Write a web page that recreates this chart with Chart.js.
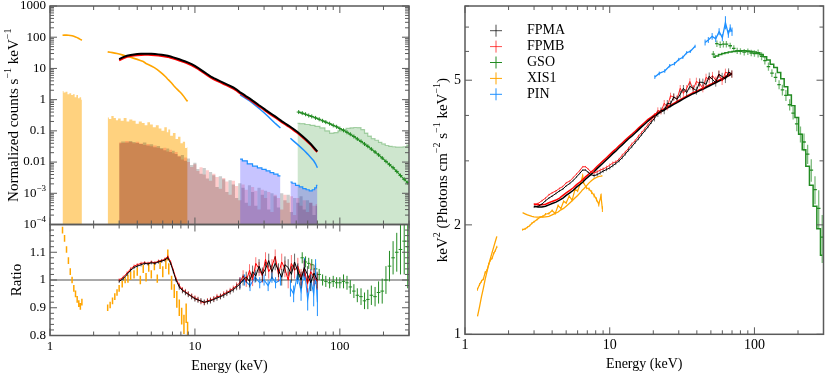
<!DOCTYPE html>
<html>
<head>
<meta charset="utf-8">
<script src="https://cdn.jsdelivr.net/npm/chart.js@4.4.1/dist/chart.umd.min.js"></script>
<style>
  html, body { margin: 0; padding: 0; background: #fff; }
  #wrap { position: relative; width: 830px; height: 386px; overflow: hidden; }
  canvas { position: absolute; top: 0; }
  #fontwarm { position: absolute; left: -9999px; font-family: "Liberation Serif"; font-size: 14px; }
</style>
</head>
<body>
<div id="wrap">
  <canvas id="cTop" width="420" height="386" style="left:0"></canvas>
  <canvas id="cRatio" width="420" height="386" style="left:0"></canvas>
  <canvas id="cUnf" width="410" height="386" style="left:420px"></canvas>
</div>
<span id="fontwarm">Energy (keV) 0123456789</span>
<script>
// ---- NuSTAR FPMA/FPMB energies (keV) ----
const fpmE = [3.0, 3.2, 3.4, 3.6, 3.8, 4.0, 4.25, 4.5, 4.75, 5.0,
  5.3, 5.6, 5.9, 6.2, 6.5, 6.8, 7.1, 7.4, 7.8, 8.2,
  8.6, 9.0, 9.5, 10, 10.5, 11, 11.6, 12.2, 12.8, 13.5,
  14.2, 15, 15.8, 16.6, 17.5, 18.4, 19.4, 20.4, 21.5, 22.6,
  23.8, 25, 26.3, 27.7, 29.2, 30.7, 32.3, 34, 35.8, 37.7,
  39.7, 41.8, 44, 46.3, 48.7, 51.3, 54, 56.8, 59.8, 63,
  66.3, 69.8];
const fpmaCounts = [20, 23, 25.5, 27, 28, 28.8, 29.3, 29.6, 29.6, 29.3,
  28.8, 28.2, 27.3, 26.3, 25.4, 24.0, 22.6, 21.2, 19.6, 18.0,
  16.6, 15.3, 13.7, 12.0, 10.5, 9.0, 7.6, 6.5, 5.6, 4.9,
  4.35, 3.85, 3.45, 3.1, 2.75, 2.45, 2.1, 1.75, 1.5, 1.28,
  1.1, 0.93, 0.79, 0.66, 0.56, 0.47, 0.40, 0.34, 0.29, 0.245,
  0.205, 0.175, 0.15, 0.128, 0.108, 0.09, 0.074, 0.06, 0.048, 0.038,
  0.029, 0.022];
const fpmbCounts = [18, 21, 23.5, 24.8, 25.8, 26.5, 27, 27.2, 27.2, 27,
  26.5, 26, 25.1, 24.2, 23.4, 22.1, 20.8, 19.5, 18, 16.6,
  15.3, 14.1, 12.6, 11.0, 9.7, 8.3, 7.0, 6.0, 5.15, 4.5,
  4.0, 3.55, 3.17, 2.85, 2.53, 2.25, 1.93, 1.62, 1.39, 1.18,
  1.01, 0.86, 0.73, 0.61, 0.52, 0.435, 0.37, 0.315, 0.27, 0.228,
  0.19, 0.163, 0.14, 0.119, 0.1, 0.084, 0.069, 0.056, 0.045, 0.036,
  0.027, 0.021];
const fpmaBkg = [0.040, 0.046, 0.042, 0.047, 0.044, 0.041, 0.038, 0.042, 0.034, 0.037,
  0.030, 0.033, 0.028, 0.024, 0.027, 0.021, 0.023, 0.018, 0.015, 0.017,
  0.011, 0.013, 0.008, 0.0095, 0.006, 0.0042, 0.0065, 0.003, 0.0048, 0.0038,
  0.0016, 0.0035, 0.0028, 0.0011, 0.0026, 0.0019, 0.0007, 0.0021, 0.0015, 0.0005,
  0.0018, 0.0011, 0.0004, 0.0015, 0.0009, 0.0012, 0.0003, 0.001, 0.0008, 0.00035,
  0.001, 0.0006, 0.0009, 0.00025, 0.0007, 0.0005, 0.0008, 0.0003, 0.0006, 0.0005,
  0.0002, 0.0004];
const fpmbBkg = [0.043, 0.041, 0.047, 0.044, 0.040, 0.045, 0.039, 0.035, 0.038, 0.032,
  0.034, 0.029, 0.026, 0.029, 0.022, 0.025, 0.019, 0.021, 0.016, 0.012,
  0.014, 0.010, 0.007, 0.0085, 0.0052, 0.0068, 0.004, 0.0055, 0.0025, 0.0042,
  0.0033, 0.0014, 0.0031, 0.0024, 0.0009, 0.0025, 0.0017, 0.0006, 0.0019, 0.0013,
  0.0004, 0.0016, 0.0012, 0.0003, 0.0013, 0.0007, 0.0011, 0.00025, 0.0009, 0.0007,
  0.0003, 0.0009, 0.0005, 0.0008, 0.0002, 0.0007, 0.0004, 0.0006, 0.00025, 0.0005,
  0.0004, 0.00045];
const fpmaRatio = [0.995, 1.005, 1.02, 1.035, 1.045, 1.05, 1.055, 1.06, 1.058, 1.062,
  1.06, 1.065, 1.068, 1.072, 1.08, 1.06, 1.03, 1.0, 0.975, 0.962,
  0.955, 0.948, 0.94, 0.932, 0.928, 0.925, 0.92, 0.922, 0.925, 0.93,
  0.935, 0.94, 0.945, 0.952, 0.958, 0.965, 0.975, 0.985, 1.0, 1.01,
  0.995, 1.03, 1.015, 1.05, 1.02, 1.04, 1.07, 1.03, 1.06, 1.035,
  1.01, 1.055, 1.045, 1.02, 1.065, 1.03, 1.0, 1.045, 1.02, 0.99,
  1.025, 1.0];
const fpmbRatio = [1.0, 1.01, 1.025, 1.04, 1.05, 1.055, 1.06, 1.062, 1.06, 1.065,
  1.062, 1.068, 1.07, 1.075, 1.085, 1.065, 1.035, 1.005, 0.98, 0.965,
  0.958, 0.95, 0.942, 0.935, 0.93, 0.922, 0.918, 0.925, 0.928, 0.932,
  0.94, 0.942, 0.95, 0.955, 0.962, 0.97, 0.98, 0.99, 1.015, 0.995,
  1.035, 1.0, 1.06, 1.04, 1.015, 1.075, 1.03, 1.05, 1.085, 1.02,
  1.065, 1.04, 1.0, 1.06, 1.035, 1.05, 1.01, 1.04, 0.985, 1.03,
  1.01, 0.995];
const fpmRatioErr = [0.006, 0.006, 0.006, 0.006, 0.006, 0.006, 0.006, 0.006, 0.006, 0.006,
  0.006, 0.006, 0.006, 0.006, 0.006, 0.006, 0.006, 0.006, 0.01, 0.01,
  0.01, 0.01, 0.01, 0.01, 0.01, 0.01, 0.01, 0.01, 0.01, 0.01,
  0.01, 0.01, 0.01, 0.01, 0.01, 0.01, 0.012, 0.02, 0.02, 0.02,
  0.022, 0.022, 0.022, 0.025, 0.025, 0.025, 0.025, 0.025, 0.025, 0.025,
  0.03, 0.03, 0.03, 0.03, 0.03, 0.03, 0.03, 0.03, 0.03, 0.03,
  0.03, 0.03];
const fpmaModel = [2.25, 2.24, 2.24, 2.25, 2.27, 2.29, 2.31, 2.34, 2.37, 2.41,
  2.45, 2.49, 2.54, 2.58, 2.62, 2.67, 2.71, 2.75, 2.80, 2.86,
  2.91, 2.96, 3.02, 3.08, 3.14, 3.19, 3.26, 3.32, 3.38, 3.45,
  3.51, 3.58, 3.65, 3.72, 3.79, 3.86, 3.93, 3.99, 4.04, 4.09,
  4.14, 4.19, 4.24, 4.29, 4.34, 4.39, 4.44, 4.49, 4.54, 4.59,
  4.63, 4.68, 4.72, 4.77, 4.82, 4.87, 4.92, 4.97, 5.02, 5.08,
  5.14, 5.20];
const fpmbModel = [2.28, 2.27, 2.27, 2.28, 2.30, 2.32, 2.34, 2.37, 2.41, 2.45,
  2.49, 2.53, 2.58, 2.62, 2.66, 2.71, 2.75, 2.79, 2.84, 2.90,
  2.95, 3.00, 3.06, 3.12, 3.18, 3.23, 3.30, 3.36, 3.42, 3.49,
  3.55, 3.62, 3.69, 3.76, 3.83, 3.90, 3.96, 4.02, 4.07, 4.12,
  4.17, 4.22, 4.27, 4.32, 4.37, 4.42, 4.47, 4.52, 4.57, 4.62,
  4.66, 4.71, 4.75, 4.80, 4.85, 4.90, 4.95, 5.00, 5.05, 5.11,
  5.17, 5.23];
const fpmaUnf = [2.24, 2.25, 2.28, 2.33, 2.37, 2.40, 2.44, 2.48, 2.51, 2.56,
  2.60, 2.65, 2.71, 2.77, 2.83, 2.83, 2.79, 2.75, 2.73, 2.75,
  2.78, 2.81, 2.84, 2.87, 2.91, 2.95, 3.00, 3.06, 3.13, 3.21,
  3.28, 3.37, 3.45, 3.54, 3.63, 3.72, 3.83, 3.93, 4.04, 4.13,
  4.12, 4.32, 4.30, 4.50, 4.43, 4.57, 4.75, 4.62, 4.81, 4.75,
  4.68, 4.94, 4.93, 4.87, 5.13, 5.02, 4.92, 5.19, 5.12, 5.03,
  5.27, 5.20];
const fpmbUnf = [2.28, 2.29, 2.33, 2.37, 2.42, 2.45, 2.48, 2.52, 2.55, 2.61,
  2.64, 2.70, 2.76, 2.82, 2.89, 2.89, 2.85, 2.80, 2.78, 2.80,
  2.83, 2.85, 2.88, 2.92, 2.96, 2.98, 3.03, 3.11, 3.17, 3.25,
  3.34, 3.41, 3.51, 3.59, 3.68, 3.78, 3.88, 3.98, 4.13, 4.10,
  4.32, 4.22, 4.53, 4.49, 4.44, 4.75, 4.60, 4.75, 4.96, 4.71,
  4.96, 4.90, 4.75, 5.09, 5.02, 5.15, 5.00, 5.20, 4.97, 5.26,
  5.22, 5.20];
const fpmUnfErr = [0.015, 0.015, 0.015, 0.015, 0.015, 0.015, 0.015, 0.015, 0.015, 0.015,
  0.015, 0.015, 0.015, 0.015, 0.015, 0.015, 0.015, 0.015, 0.03, 0.03,
  0.03, 0.03, 0.03, 0.03, 0.03, 0.03, 0.03, 0.03, 0.03, 0.03,
  0.03, 0.03, 0.03, 0.03, 0.03, 0.03, 0.04, 0.08, 0.08, 0.08,
  0.09, 0.09, 0.09, 0.1, 0.1, 0.1, 0.1, 0.1, 0.1, 0.1,
  0.12, 0.12, 0.12, 0.12, 0.12, 0.12, 0.12, 0.12, 0.12, 0.12,
  0.12, 0.12];

// ---- Suzaku XIS1 ----
const xis1E1 = [1.22, 1.26, 1.3, 1.34, 1.38, 1.42, 1.46, 1.5, 1.54, 1.58, 1.62, 1.66];
const xis1Counts1 = [115, 117, 117, 116, 114, 111, 107, 102, 97, 91, 85, 80];
const xis1Bkg1 = [1.9, 1.7, 1.8, 1.5, 1.6, 1.4, 1.5, 1.2, 1.4, 1.1, 1.2, 1.0];
const xis1Ratio1 = [1.18, 1.15, 1.11, 1.07, 1.03, 1.0, 0.97, 0.95, 0.93, 0.915, 0.905, 0.92];
const xis1RatioErr1 = [0.012, 0.012, 0.012, 0.012, 0.012, 0.012, 0.012, 0.012, 0.012, 0.012, 0.012, 0.012];
const xis1Unf1 = [1.33, 1.37, 1.40, 1.42, 1.48, 1.50, 1.56, 1.60, 1.62, 1.67, 1.70, 1.74];
const xis1Model1 = [1.12, 1.19, 1.27, 1.34, 1.42, 1.49, 1.56, 1.62, 1.68, 1.74, 1.80, 1.86];
const xis1E2 = [2.5, 2.6, 2.7, 2.8, 2.9, 3.0, 3.15, 3.3, 3.45, 3.6,
  3.8, 4.0, 4.2, 4.4, 4.6, 4.8, 5.0, 5.25, 5.5, 5.75,
  6.0, 6.3, 6.5, 6.6, 6.9, 7.2, 7.5, 7.8, 8.1, 8.4,
  8.7, 8.9];
const xis1Counts2 = [34, 33, 32, 31, 30, 28.8, 27.2, 25.5, 24, 22.8,
  21, 19.5, 18, 16.6, 14.4, 13.2, 12, 10.6, 9.2, 7.8,
  6.6, 5.3, 4.5, 4.2, 3.4, 2.7, 2.2, 1.85, 1.55, 1.25,
  1.0, 0.88];
const xis1Bkg2 = [0.27, 0.24, 0.3, 0.26, 0.22, 0.25, 0.21, 0.26, 0.2, 0.23,
  0.21, 0.17, 0.2, 0.18, 0.15, 0.19, 0.16, 0.13, 0.15, 0.12,
  0.1, 0.13, 0.09, 0.11, 0.07, 0.085, 0.055, 0.065, 0.04, 0.045,
  0.028, 0.03];
const xis1Ratio2 = [0.9, 0.91, 0.925, 0.94, 0.955, 0.97, 0.985, 1.0, 1.005, 1.015,
  1.02, 1.03, 1.0, 1.04, 1.01, 1.045, 1.02, 1.05, 1.005, 1.055,
  1.03, 1.06, 1.09, 1.04, 0.99, 0.96, 0.93, 0.9, 0.87, 0.84,
  0.88, 0.81];
const xis1RatioErr2 = [0.012, 0.012, 0.012, 0.012, 0.012, 0.012, 0.012, 0.012, 0.015, 0.015,
  0.015, 0.015, 0.015, 0.015, 0.015, 0.015, 0.015, 0.015, 0.015, 0.015,
  0.02, 0.02, 0.02, 0.02, 0.025, 0.025, 0.03, 0.03, 0.03, 0.035,
  0.035, 0.04];
const xis1Model2 = [2.16, 2.145, 2.13, 2.12, 2.11, 2.105, 2.10, 2.10, 2.10, 2.105,
  2.11, 2.13, 2.15, 2.17, 2.2, 2.22, 2.25, 2.29, 2.33, 2.37,
  2.41, 2.46, 2.5, 2.51, 2.56, 2.61, 2.65, 2.68, 2.7, 2.72,
  2.725, 2.73];
const xis1Unf2 = [1.94, 1.95, 1.97, 1.99, 2.02, 2.04, 2.07, 2.10, 2.11, 2.14,
  2.15, 2.19, 2.15, 2.26, 2.22, 2.32, 2.30, 2.40, 2.34, 2.50,
  2.48, 2.61, 2.73, 2.61, 2.53, 2.51, 2.46, 2.41, 2.35, 2.28,
  2.40, 2.21];

// ---- Suzaku HXD PIN ----
const pinE1 = [20.5, 22, 24, 26, 28, 30, 32, 34, 36, 38.9];
const pinCounts1 = [1.42, 1.17, 0.9, 0.67, 0.5, 0.38, 0.29, 0.22, 0.17, 0.124];
const pinBkg1 = [0.0125, 0.011, 0.0088, 0.0074, 0.0065, 0.0058, 0.0052, 0.0046, 0.0041, 0.0036];
const pinRatio1 = [0.99, 1.0, 0.98, 1.01, 0.99, 1.0, 0.98, 1.01, 0.99, 1.0];
const pinRatioErr1 = [0.02, 0.02, 0.02, 0.02, 0.02, 0.02, 0.02, 0.02, 0.02, 0.02];
const pinUnf1 = [5.1, 5.22, 5.3, 5.48, 5.55, 5.7, 5.78, 5.95, 6.0, 6.2];
const pinUnfErr1 = [0.06, 0.06, 0.06, 0.06, 0.06, 0.06, 0.06, 0.06, 0.06, 0.06];
const pinE2 = [45.6, 48, 51, 54, 57, 60, 63, 66, 68, 70];
const pinCounts2 = [0.058, 0.047, 0.037, 0.029, 0.023, 0.018, 0.014, 0.011, 0.0088, 0.0066];
const pinBkg2 = [0.0023, 0.0021, 0.0018, 0.0016, 0.0014, 0.0013, 0.0012, 0.0013, 0.0015, 0.0018];
const pinRatio2 = [0.97, 0.95, 1.02, 0.96, 1.04, 0.93, 1.0, 0.95, 1.03, 0.92];
const pinRatioErr2 = [0.03, 0.03, 0.035, 0.035, 0.04, 0.04, 0.04, 0.045, 0.045, 0.05];
const pinUnf2 = [6.35, 6.45, 6.6, 6.5, 6.8, 6.55, 7.2, 6.7, 6.95, 6.8];
const pinUnfErr2 = [0.12, 0.12, 0.14, 0.14, 0.15, 0.15, 0.3, 0.16, 0.17, 0.18];

// ---- Suzaku HXD GSO ----
const gsoE = [52, 55, 58, 61, 64, 68, 72, 76, 80, 85,
  90, 95, 100, 106, 112, 118, 125, 132, 140, 148,
  156, 165, 175, 185, 196, 208, 220, 233, 247, 262,
  278, 294];
const gsoCounts = [0.40, 0.37, 0.34, 0.31, 0.29, 0.26, 0.235, 0.21, 0.19, 0.17,
  0.15, 0.135, 0.118, 0.104, 0.09, 0.078, 0.066, 0.055, 0.046, 0.038,
  0.032, 0.026, 0.021, 0.017, 0.0135, 0.0105, 0.0083, 0.0066, 0.005, 0.0037,
  0.0028, 0.0022];
const gsoRatio = [1.02, 1.08, 1.065, 1.06, 1.055, 1.04, 1.02, 1.0, 0.995, 0.99,
  0.995, 0.99, 0.99, 0.995, 0.99, 0.975, 0.96, 0.945, 0.94, 0.925,
  0.93, 0.945, 0.94, 0.955, 0.96, 1.0, 1.05, 1.08, 1.1, 1.11,
  1.14, 1.12];
const gsoRatioErr = [0.02, 0.02, 0.02, 0.02, 0.02, 0.02, 0.02, 0.02, 0.02, 0.02,
  0.02, 0.02, 0.02, 0.025, 0.025, 0.025, 0.025, 0.025, 0.03, 0.03,
  0.035, 0.035, 0.035, 0.04, 0.045, 0.05, 0.055, 0.06, 0.07, 0.09,
  0.12, 0.15];
const gsoModel = [5.78, 5.83, 5.88, 5.92, 5.95, 5.98, 6.00, 6.02, 6.03, 6.03,
  6.02, 6.00, 5.98, 5.95, 5.88, 5.80, 5.68, 5.53, 5.42, 5.25,
  5.05, 4.80, 4.55, 4.25, 3.95, 3.55, 3.22, 2.90, 2.57, 2.25,
  1.95, 1.65];
const gsoUnf = [5.90, 6.30, 6.26, 6.28, 6.28, 6.22, 6.12, 6.02, 6.00, 5.97,
  5.99, 5.94, 5.92, 5.92, 5.82, 5.66, 5.45, 5.23, 5.09, 4.86,
  4.70, 4.54, 4.28, 4.06, 3.79, 3.55, 3.38, 3.13, 2.83, 2.50,
  2.22, 1.85];
const gsoUnfErr = [0.12, 0.13, 0.13, 0.13, 0.13, 0.12, 0.12, 0.12, 0.12, 0.12,
  0.12, 0.12, 0.12, 0.15, 0.15, 0.14, 0.14, 0.13, 0.15, 0.14,
  0.16, 0.16, 0.15, 0.16, 0.17, 0.18, 0.19, 0.19, 0.2, 0.22,
  0.27, 0.28];
const gsoBkgE = [51, 55, 60, 65, 70, 76, 82, 88, 94, 100,
  107, 114, 121, 128, 136, 144, 152, 160, 170, 180,
  190, 200, 212, 224, 236, 250, 265, 280, 300];
const gsoBkg = [0.175, 0.17, 0.16, 0.15, 0.14, 0.125, 0.1, 0.085, 0.088, 0.1,
  0.11, 0.12, 0.125, 0.128, 0.126, 0.11, 0.085, 0.068, 0.056, 0.05,
  0.043, 0.038, 0.034, 0.032, 0.031, 0.030, 0.030, 0.031, 0.035];

const unityE = [1, 300];
const unityR = [1, 1];

// ---- axis ticks / labels ----
const energyMajor = [1, 10, 100];
const energyMinor = [2, 3, 4, 5, 6, 7, 8, 9, 20, 30, 40, 50, 60, 70, 80, 90, 200, 300];
const energyLabels = ['1', '10', '100'];
const countMajor = [1e-4, 1e-3, 0.01, 0.1, 1, 10, 100, 1000];
const countLabels = ['10^{−4}', '10^{−3}', '0.01', '0.1', '1', '10', '100', '1000'];
const countMinor = [];
countMajor.slice(0, -1).forEach(d => [2, 3, 4, 5, 6, 7, 8, 9].forEach(m => countMinor.push(d * m)));
const ratioMajor = [0.8, 0.9, 1.0, 1.1];
const ratioLabels = ['0.8', '0.9', '1', '1.1'];
const ratioMinor = [0.82, 0.84, 0.86, 0.88, 0.92, 0.94, 0.96, 0.98, 1.02, 1.04, 1.06, 1.08, 1.12, 1.14, 1.16, 1.18];
const unfMajor = [1, 2, 5];
const unfLabels = ['1', '2', '5'];
const unfMinor = [3, 4, 6, 7, 8];
const legendNames = ['FPMA', 'FPMB', 'GSO', 'XIS1', 'PIN'];

const ORANGE = '#ffa500', BLUE = '#1e90ff', GREEN = '#228b22', RED = '#ff0000';
const FONT = '"Liberation Serif", "Times New Roman", "DejaVu Serif", serif';

function parseRich(s) {
  const out = []; const re = /\^\{([^}]*)\}/g; let last = 0, m;
  while ((m = re.exec(s))) {
    if (m.index > last) out.push({ t: s.slice(last, m.index) });
    out.push({ t: m[1], sup: true }); last = re.lastIndex;
  }
  if (last < s.length) out.push({ t: s.slice(last) });
  return out;
}
function drawRich(ctx, s, x, y, size, align) {
  const parts = parseRich(s); let w = 0;
  const fs = p => (p.sup ? Math.round(size * 0.68) : size) + 'px ' + FONT;
  parts.forEach(p => { ctx.font = fs(p); p.w = ctx.measureText(p.t).width; w += p.w; });
  let cx = align === 'right' ? x - w : align === 'center' ? x - w / 2 : x;
  ctx.textAlign = 'left'; ctx.textBaseline = 'middle';
  parts.forEach(p => {
    ctx.font = fs(p);
    ctx.fillText(p.t, cx, p.sup ? y - size * 0.38 : y);
    cx += p.w;
  });
}

const axisCfg = {
  cTop: { xMaj: energyMajor, xMin: energyMinor, yMaj: countMajor, yMin: countMinor, yLab: countLabels, tickSize: 13,
          yTitle: 'Normalized counts s^{−1} keV^{−1}', yTitleX: 14, yTitleSize: 15 },
  cRatio: { xMaj: energyMajor, xMin: energyMinor, xLab: energyLabels, yMaj: ratioMajor, yMin: ratioMinor, yLab: ratioLabels, tickSize: 13,
          yTitle: 'Ratio', yTitleX: 17.5, yTitleSize: 15, xTitle: 'Energy (keV)' },
  cUnf: { xMaj: energyMajor, xMin: energyMinor, xLab: energyLabels, yMaj: unfMajor, yMin: unfMinor, yLab: unfLabels, tickSize: 14,
          yTitle: 'keV^{2} (Photons cm^{−2} s^{−1} keV^{−1})', yTitleX: 23.5, yTitleSize: 15, xTitle: 'Energy (keV)', legend: true }
};

const axesPlugin = {
  id: 'axes',
  afterDatasetDraw(chart, args) {
    const ds = chart.data.datasets[args.index];
    if (!ds.errY) return;
    const { ctx, chartArea: a, scales: { x, y } } = chart;
    ctx.save();
    ctx.beginPath(); ctx.rect(a.left, a.top, a.right - a.left, a.bottom - a.top); ctx.clip();
    ctx.lineWidth = ds.errWidth || 1;
    ctx.strokeStyle = ds.errColor || ds.borderColor;
    ctx.beginPath();
    ds.data.forEach((p, i) => {
      const px = x.getPixelForValue(p.x);
      ctx.moveTo(px, y.getPixelForValue(p.y - ds.errY[i]));
      ctx.lineTo(px, y.getPixelForValue(p.y + ds.errY[i]));
    });
    ctx.stroke();
    if (ds.binX) {
      ctx.strokeStyle = ds.binColor || ds.borderColor;
      ctx.beginPath();
      const d = ds.data;
      d.forEach((p, i) => {
        const lo = i > 0 ? Math.sqrt(d[i - 1].x * p.x) : p.x * Math.sqrt(p.x / d[i + 1].x);
        const hi = i < d.length - 1 ? Math.sqrt(d[i + 1].x * p.x) : p.x * Math.sqrt(p.x / d[i - 1].x);
        const py = y.getPixelForValue(p.y);
        ctx.moveTo(x.getPixelForValue(lo), py); ctx.lineTo(x.getPixelForValue(hi), py);
      });
      ctx.stroke();
    }
    ctx.restore();
  },
  afterDraw(chart) {
    const o = axisCfg[chart.canvas.id];
    const { ctx, chartArea: a, scales: { x, y } } = chart;
    ctx.save();
    ctx.strokeStyle = '#5a5a5a'; ctx.lineWidth = 1;
    const seg = (x1, y1, x2, y2) => { ctx.moveTo(x1, y1); ctx.lineTo(x2, y2); };
    ctx.beginPath();
    const xt = (vals, len) => vals.forEach(v => { const px = x.getPixelForValue(v); seg(px, a.bottom, px, a.bottom - len); seg(px, a.top, px, a.top + len); });
    const yt = (vals, len) => vals.forEach(v => { const py = y.getPixelForValue(v); seg(a.left, py, a.left + len, py); seg(a.right, py, a.right - len, py); });
    xt(o.xMaj, 7); xt(o.xMin, 4); yt(o.yMaj, 7); yt(o.yMin, 4);
    ctx.stroke();
    ctx.lineWidth = 1.5;
    ctx.strokeRect(a.left, a.top, a.right - a.left, a.bottom - a.top);
    ctx.fillStyle = '#000';
    o.yLab.forEach((s, i) => drawRich(ctx, s, a.left - 4, y.getPixelForValue(o.yMaj[i]), o.tickSize, 'right'));
    if (o.xLab) o.xLab.forEach((s, i) => drawRich(ctx, s, x.getPixelForValue(o.xMaj[i]), a.bottom + 11.5, o.tickSize, 'center'));
    if (o.xTitle) drawRich(ctx, o.xTitle, (a.left + a.right) / 2, a.bottom + 30.5, 14, 'center');
    ctx.save();
    ctx.translate(o.yTitleX, (a.top + a.bottom) / 2);
    ctx.rotate(-Math.PI / 2);
    drawRich(ctx, o.yTitle, 0, 0, o.yTitleSize, 'center');
    ctx.restore();
    if (o.legend) {
      const cols = ['rgba(0,0,0,0.7)', 'rgba(255,0,0,0.7)', GREEN, ORANGE, BLUE];
      legendNames.forEach((n, i) => {
        const cy = 30.7 + i * 15.9, cx = 76;
        ctx.strokeStyle = cols[i]; ctx.lineWidth = 1;
        ctx.beginPath(); seg(cx - 6, cy, cx + 6, cy); seg(cx, cy - 6, cx, cy + 6); ctx.stroke();
        drawRich(ctx, n, 107, cy, 14, 'left');
      });
    }
    ctx.restore();
  }
};

const pts = (xs, ys) => xs.map((v, i) => ({ x: v, y: ys[i] }));
const line = (xs, ys, color, width, extra) => Object.assign({
  data: pts(xs, ys), borderColor: color, backgroundColor: color, borderWidth: width, fill: false, pointRadius: 0
}, extra || {});
const band = (xs, ys, fillColor, edge) => line(xs, ys, edge || 'rgba(0,0,0,0)', 1.2, {
  fill: 'start', backgroundColor: fillColor, stepped: 'middle'
});

function makeChart(id, datasets, yType, yMin, yMax, padding) {
  return new Chart(document.getElementById(id), {
    type: 'line',
    data: { datasets },
    options: {
      responsive: false, animation: false, devicePixelRatio: 1,
      layout: { padding },
      plugins: { legend: { display: false }, tooltip: { enabled: false } },
      elements: { line: { tension: 0 } },
      scales: {
        x: { type: 'logarithmic', min: 1, max: 300, display: false },
        y: { type: yType, min: yMin, max: yMax, display: false }
      }
    },
    plugins: [axesPlugin]
  });
}

const gsoCross = { pointStyle: 'cross', pointRadius: 2, pointBorderWidth: 1, pointBorderColor: GREEN };

function drawAll() {
  makeChart('cTop', [
    line(fpmE, fpmaCounts, '#000', 2),
    line(fpmE, fpmbCounts, RED, 2),
    line(xis1E1, xis1Counts1, ORANGE, 1.6),
    line(xis1E2, xis1Counts2, ORANGE, 1.6),
    line(pinE1, pinCounts1, BLUE, 1.5),
    line(pinE2, pinCounts2, BLUE, 1.5),
    line(gsoE, gsoCounts, GREEN, 1.2, gsoCross),
    band(pinE1, pinBkg1, 'rgba(80,70,255,0.32)', BLUE),
    band(pinE2, pinBkg2, 'rgba(80,70,255,0.32)', BLUE),
    band(fpmE, fpmaBkg, 'rgba(0,0,0,0.2)'),
    band(fpmE, fpmbBkg, 'rgba(255,0,0,0.2)'),
    band(xis1E1, xis1Bkg1, 'rgba(255,165,0,0.5)'),
    band(xis1E2, xis1Bkg2, 'rgba(255,165,0,0.5)'),
    band(gsoBkgE, gsoBkg, 'rgba(34,139,34,0.22)', 'rgba(34,139,34,0.35)')
  ], 'logarithmic', 1e-4, 1000, { left: 50, top: 6, right: 11, bottom: 161.5 });

  makeChart('cRatio', [
    line(fpmE, fpmaRatio, '#000', 1, { errY: fpmRatioErr, errColor: 'rgba(0,0,0,0.6)' }),
    line(fpmE, fpmbRatio, RED, 1, { errY: fpmRatioErr, errColor: 'rgba(255,0,0,0.55)' }),
    line(pinE1, pinRatio1, BLUE, 1.1, { errY: pinRatioErr1 }),
    line(pinE2, pinRatio2, BLUE, 1.1, { errY: pinRatioErr2 }),
    line(xis1E1, xis1Ratio1, ORANGE, 1.3, { showLine: false, errY: xis1RatioErr1, errWidth: 1.5 }),
    line(xis1E2, xis1Ratio2, ORANGE, 1.3, { showLine: false, errY: xis1RatioErr2, errWidth: 1.5 }),
    line(gsoE, gsoRatio, GREEN, 1.2, { showLine: false, errY: gsoRatioErr, binX: true }),
    line(unityE, unityR, '#8c8c8c', 1.5)
  ], 'linear', 0.8, 1.2, { left: 50, top: 224.5, right: 11, bottom: 50.5 });

  makeChart('cUnf', [
    line(fpmE, fpmaUnf, '#000', 1, { errY: fpmUnfErr, errColor: 'rgba(0,0,0,0.55)' }),
    line(fpmE, fpmbUnf, 'rgba(255,0,0,0.85)', 1, { errY: fpmUnfErr, errColor: 'rgba(255,0,0,0.5)' }),
    line(fpmE, fpmaModel, '#000', 1.5),
    line(fpmE, fpmbModel, RED, 1.5),
    line(xis1E1, xis1Unf1, ORANGE, 1.2, { errY: xis1RatioErr1 }),
    line(xis1E2, xis1Unf2, ORANGE, 1.2, { errY: xis1RatioErr2 }),
    line(xis1E1, xis1Model1, ORANGE, 1.3),
    line(xis1E2, xis1Model2, ORANGE, 1.3),
    line(pinE1, pinUnf1, BLUE, 1.3, { errY: pinUnfErr1 }),
    line(pinE2, pinUnf2, BLUE, 1.3, { errY: pinUnfErr2 }),
    line(gsoE, gsoUnf, GREEN, 1.2, { showLine: false, errY: gsoUnfErr, errColor: 'rgba(34,139,34,0.6)', errWidth: 1.3, binX: true }),
    line(gsoE, gsoModel, GREEN, 1.5, { stepped: 'middle' })
  ], 'logarithmic', 1, 8, { left: 45, top: 6, right: 6.5, bottom: 51.7 });
}

const fontReady = document.fonts && document.fonts.load
  ? Promise.all([13, 14, 15, 9, 10].map(s => document.fonts.load(s + 'px "Liberation Serif"'))).catch(() => null)
  : Promise.resolve();
fontReady.then(drawAll, drawAll);
</script>
</body>
</html>
